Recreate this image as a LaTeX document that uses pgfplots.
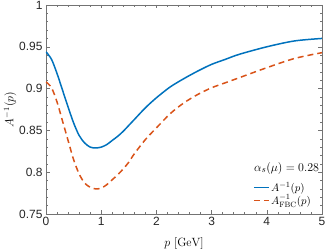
\documentclass[border=0pt]{standalone}
\usepackage{pgfplots}
\pgfplotsset{compat=1.18}
\usepackage{fontspec}
\setsansfont{Liberation Sans}
\definecolor{mblue}{rgb}{0,0.447,0.741}
\definecolor{morange}{rgb}{0.85,0.325,0.098}
\begin{document}
\begin{tikzpicture}
\useasboundingbox (0,0) rectangle (328bp,250bp);
\begin{axis}[
  at={(46bp,36bp)}, anchor=south west,
  scale only axis, width=276bp, height=209bp,
  xmin=0, xmax=5, ymin=0.75, ymax=1,
  xtick={0,1,2,3,4,5},
  ytick={0.75,0.8,0.85,0.9,0.95,1},
  minor x tick num=4, minor y tick num=4,
  tick align=inside,
  major tick length=3.5bp, minor tick length=2bp,
  axis line style={black!55, line width=0.5bp},
  every tick/.style={black!55, line width=0.5bp},
  /pgf/number format/assume math mode=true,
  ticklabel style={font=\sffamily\fontsize{12}{14}\selectfont, text=black!85},
  xlabel={$p~[\mathrm{GeV}]$},
  ylabel={$A^{-1}(p)$},
  label style={font=\fontsize{12}{14}\selectfont},
  xlabel style={at={(axis description cs:0.5,-0.14)}, anchor=center},
  ylabel style={at={(axis description cs:-0.13,0.5)}, anchor=center},
  legend image code/.code={\draw[mark repeat=2,mark phase=2,#1] plot coordinates {(0bp,0bp) (7.5bp,0bp) (15bp,0bp)};},
  legend style={at={(rel axis cs:0.75,0.16)}, anchor=north west, draw=none, fill=none,
    font=\fontsize{11}{13}\selectfont, inner sep=0pt, row sep=-1bp,
    nodes={inner sep=1.5bp}},
  legend cell align=left,
]
\addplot[mblue, line width=1.5bp, smooth] coordinates {
(0,0.944)(0.1,0.935)(0.2,0.918)(0.3,0.898)(0.4,0.878)(0.5,0.859)(0.6,0.844)(0.7,0.835)(0.8,0.830)(0.9,0.829)(1.0,0.830)(1.1,0.833)(1.2,0.838)(1.3,0.843)(1.4,0.849)(1.5,0.856)(1.6,0.863)(1.8,0.877)(2.0,0.889)(2.25,0.902)(2.5,0.912)(2.75,0.921)(3.0,0.929)(3.25,0.935)(3.5,0.941)(4.0,0.950)(4.5,0.957)(5.0,0.960)
};
\addlegendentry{$A^{-1}(p)$}
\addplot[morange, line width=1.5bp, dash pattern=on 6bp off 4bp, smooth] coordinates {
(0,0.908)(0.1,0.901)(0.2,0.884)(0.3,0.861)(0.4,0.838)(0.5,0.815)(0.6,0.798)(0.7,0.787)(0.8,0.782)(0.9,0.780)(1.0,0.781)(1.1,0.785)(1.2,0.791)(1.3,0.797)(1.4,0.804)(1.5,0.812)(1.6,0.822)(1.8,0.839)(2.0,0.853)(2.25,0.870)(2.5,0.883)(2.75,0.893)(3.0,0.901)(3.25,0.907)(3.5,0.913)(4.0,0.925)(4.5,0.936)(5.0,0.943)
};
\addlegendentry{$A^{-1}_{\mathrm{FBC}}(p)$}
\node[anchor=east, font=\fontsize{12.5}{14}\selectfont, inner sep=0pt] at (rel axis cs:0.99,0.22) {$\alpha_s(\mu)=0.28$};
\end{axis}
\end{tikzpicture}
\end{document}
